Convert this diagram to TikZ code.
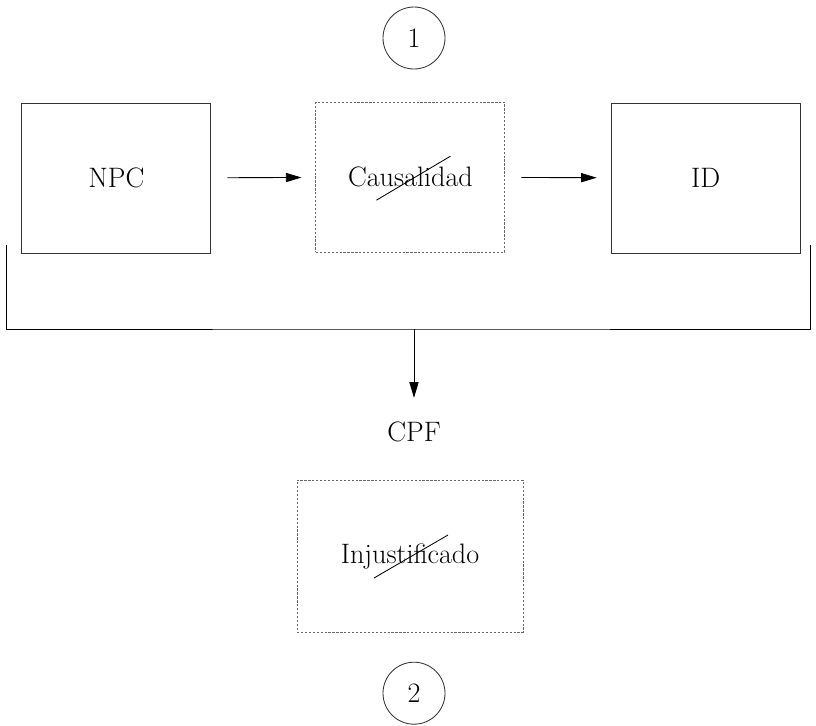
\documentclass[tikz,border=0pt]{standalone}
\usetikzlibrary{arrows.meta}
\begin{document}
\begin{tikzpicture}[font=\fontsize{20}{24}\selectfont,
    box/.style={draw=black!80,line width=0.6pt,minimum width=4.725cm,minimum height=3.75cm},
    dotbox/.style={draw=black!60,line width=0.6pt,dash pattern=on 1.6pt off 1.2pt},
    num/.style={draw=black!80,line width=0.6pt,circle,minimum size=1.55cm},
    arr/.style={-{Triangle[length=3.9mm,width=2.3mm]},line width=0.6pt}]
      \useasboundingbox (0,0) rectangle (20.4,-18.15);
      \node[num] (One) at (10.35,-0.95){1};
      \node[box] (NPC) at (2.91,-4.45){NPC};
      \node[box,dotbox] (Caus) at (10.26,-4.43){Causalidad};
      \node[box] (ID) at (17.64,-4.45){ID};
      \node (CPF) at (10.35,-10.8){CPF};
      \node[dotbox,minimum width=5.65cm,minimum height=3.8cm] (Injust) at (10.25,-13.9){Injustificado};
      \node[num] (Two) at (10.35,-17.33){2};

      \coordinate (BL) at (0.15,-6.125);
      \coordinate (BR) at (20.25,-6.125);
      \coordinate (Mid) at (10.35,-8.225);

      \draw (NPC) edge[arr,shorten <=0.4cm,shorten >=0.35cm] (Caus);
      \draw (Caus) edge[arr,shorten <=0.4cm,shorten >=0.35cm] (ID);
      \draw[line width=0.6pt] (BL) |- (Mid) -| (BR);
      \draw (Mid) edge[arr,shorten >=0.48cm] (CPF);
      \draw[line width=0.6pt] (Caus.center) ++(-0.85,-0.575) -- ++(1.85,1.1);
      \draw[line width=0.6pt] (Injust.center) ++(-0.9,-0.55) -- ++(1.85,1.075);
    \end{tikzpicture}
\end{document}
